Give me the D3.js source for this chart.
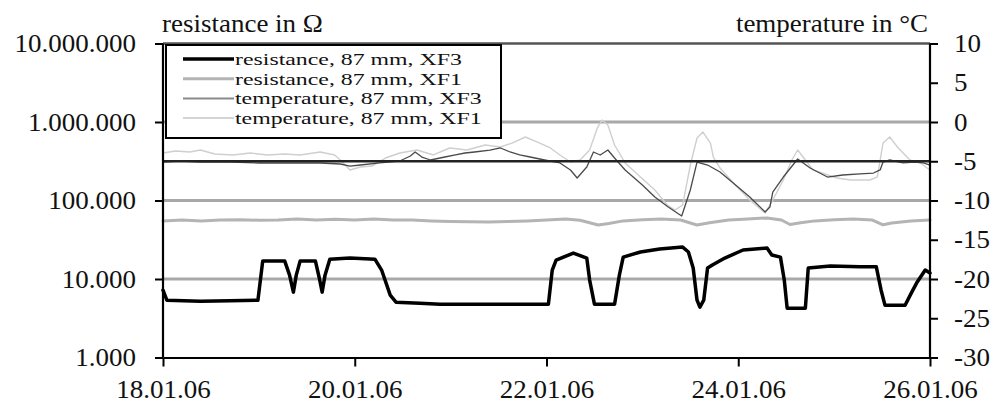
<!DOCTYPE html>
<html>
<head>
<meta charset="utf-8">
<script src="https://cdn.jsdelivr.net/npm/d3@7"></script>
<style>
  html, body { margin: 0; padding: 0; background: #fff; }
</style>
</head>
<body>
<svg id="chart" width="996" height="407"></svg>
<script>
// ---- data (days after 18.01.06 00:00) ----
const resXF3Days = [0, 0.04, 0.39, 0.70, 0.99, 1.04, 1.27, 1.32, 1.36, 1.39, 1.43, 1.59, 1.63, 1.66, 1.69, 1.74, 1.95, 2.21, 2.28, 2.37, 2.43, 2.68, 2.89, 3.51, 4.02, 4.06, 4.10, 4.28, 4.42, 4.45, 4.50, 4.71, 4.76, 4.80, 4.98, 5.18, 5.42, 5.48, 5.53, 5.57, 5.60, 5.64, 5.68, 5.73, 5.86, 6.05, 6.30, 6.35, 6.44, 6.48, 6.51, 6.70, 6.73, 6.96, 7.27, 7.44, 7.49, 7.53, 7.74, 7.81, 7.86, 7.95, 8.00];
const resXF3 = [7200, 5370, 5220, 5300, 5370, 16900, 16900, 11200, 6800, 11200, 16900, 16900, 10300, 6800, 11200, 17900, 18500, 17900, 13000, 6220, 5070, 4920, 4780, 4780, 4780, 13000, 17400, 21400, 18500, 9700, 4780, 4780, 11200, 19000, 22100, 24100, 25500, 22100, 13800, 5370, 4380, 5370, 13800, 15100, 18500, 23400, 24800, 20200, 19000, 9700, 4250, 4250, 13800, 14600, 14300, 14300, 7200, 4640, 4640, 6800, 8870, 13000, 11900];

const resXF1Days = [0, 0.2, 0.4, 0.6, 0.8, 1.0, 1.2, 1.4, 1.6, 1.8, 2.0, 2.2, 2.4, 2.6, 2.8, 3.0, 3.2, 3.4, 3.6, 3.8, 4.0, 4.2, 4.35, 4.45, 4.54, 4.65, 4.8, 5.0, 5.2, 5.4, 5.5, 5.57, 5.7, 5.9, 6.1, 6.3, 6.45, 6.54, 6.65, 6.8, 7.0, 7.2, 7.4, 7.51, 7.6, 7.8, 8.0];
const resXF1 = [55000, 56400, 55000, 56400, 57000, 56000, 56400, 58000, 56400, 57500, 56400, 58000, 56400, 56400, 55000, 54000, 53500, 53200, 54000, 55000, 56400, 58000, 56000, 52000, 48700, 51000, 55000, 57000, 58000, 56400, 51700, 48700, 52000, 56400, 58000, 60000, 56400, 49500, 52000, 55000, 57000, 58000, 56400, 49000, 51700, 54800, 56400];

const tempXF3Days = [0, 0.18, 0.39, 0.70, 1.01, 1.33, 1.64, 1.85, 1.95, 2.06, 2.26, 2.47, 2.58, 2.63, 2.70, 2.79, 2.94, 3.05, 3.15, 3.25, 3.41, 3.52, 3.62, 3.72, 3.83, 3.98, 4.14, 4.25, 4.32, 4.42, 4.49, 4.56, 4.64, 4.71, 4.82, 5.00, 5.13, 5.27, 5.41, 5.50, 5.57, 5.68, 5.81, 5.91, 6.12, 6.28, 6.33, 6.36, 6.47, 6.62, 6.75, 6.93, 7.09, 7.27, 7.41, 7.48, 7.51, 7.58, 7.72, 7.84, 7.93, 8.00];
const tempXF3 = [-5.1, -4.97, -5.1, -5.1, -5.22, -5.22, -5.22, -5.35, -5.61, -5.48, -5.22, -4.97, -4.33, -3.82, -4.46, -4.84, -4.46, -4.2, -3.95, -3.82, -3.57, -3.31, -3.82, -4.2, -4.46, -4.84, -5.22, -6.11, -7.13, -5.73, -3.82, -4.2, -3.57, -4.59, -6.11, -8.03, -9.55, -10.83, -11.97, -8.66, -5.1, -5.48, -6.37, -7.39, -9.55, -11.46, -10.83, -8.92, -7.01, -4.71, -5.86, -7.01, -6.75, -6.62, -6.5, -6.11, -5.1, -4.84, -5.22, -5.1, -5.22, -5.48];

const tempXF1Days = [0, 0.13, 0.28, 0.39, 0.54, 0.73, 0.91, 1.09, 1.27, 1.43, 1.64, 1.79, 1.85, 1.95, 2.06, 2.18, 2.32, 2.47, 2.65, 2.82, 2.99, 3.17, 3.36, 3.52, 3.64, 3.78, 3.93, 4.04, 4.14, 4.25, 4.35, 4.45, 4.53, 4.58, 4.64, 4.71, 4.82, 4.98, 5.13, 5.26, 5.34, 5.42, 5.50, 5.57, 5.63, 5.71, 5.74, 5.81, 5.95, 6.12, 6.28, 6.36, 6.47, 6.56, 6.62, 6.70, 6.78, 7.03, 7.17, 7.37, 7.45, 7.51, 7.58, 7.66, 7.79, 7.90, 7.97, 8.00];
const tempXF1 = [-3.95, -3.69, -3.82, -3.57, -4.08, -4.2, -3.95, -4.2, -4.08, -4.2, -3.82, -4.2, -4.84, -6.11, -5.73, -5.61, -4.59, -3.95, -3.57, -4.2, -3.31, -3.57, -2.93, -3.18, -2.68, -1.91, -2.68, -3.31, -4.2, -5.1, -4.84, -3.57, -0.76, 0.25, -0.38, -2.93, -5.22, -7.01, -8.66, -10.57, -11.21, -10.57, -5.48, -2.04, -1.27, -2.68, -4.46, -5.86, -7.77, -9.94, -11.59, -9.94, -7.39, -4.84, -3.57, -4.84, -6.11, -7.13, -7.39, -7.39, -7.01, -2.68, -1.91, -3.18, -4.84, -5.22, -5.86, -6.11];

const resTicks = [1e3, 1e4, 1e5, 1e6, 1e7];
const tempTicks = [-30, -25, -20, -15, -10, -5, 0, 5, 10];
const dateTickDays = [0, 2, 4, 6, 8];
const legendLabels = ["resistance, 87 mm, XF3", "resistance, 87 mm, XF1", "temperature, 87 mm, XF3", "temperature, 87 mm, XF1"];

// ---- layout ----
const m = { left: 163, right: 930, top: 43.5, bottom: 357.5 };
const FS = 25;
const SERIF = "Liberation Serif";
const start = new Date(2006, 0, 18);
const toDate = d => new Date(start.getTime() + d * 86400000);

const svg = d3.select("#chart");
const x = d3.scaleTime().domain([toDate(0), toDate(8)]).range([m.left, m.right]);
const yL = d3.scaleLog().domain([1e3, 1e7]).range([m.bottom, m.top]);
const yR = d3.scaleLinear().domain([-30, 10]).range([m.bottom, m.top]);

const de = d3.formatLocale({ decimal: ",", thousands: ".", grouping: [3], currency: ["", ""] });
const fmtRes = de.format(",d");

// grid lines
const grid = svg.append("g");
[1e4, 1e5, 1e6].forEach(v => {
  grid.append("line").attr("x1", m.left).attr("x2", m.right)
    .attr("y1", yL(v)).attr("y2", yL(v))
    .attr("stroke", "#a8a8a8").attr("stroke-width", 3);
});
grid.append("line").attr("x1", m.left).attr("x2", m.right)
  .attr("y1", yL(1e7)).attr("y2", yL(1e7))
  .attr("stroke", "#555").attr("stroke-width", 2.5);

// series
const series = [
  { days: resXF1Days, vals: resXF1, y: yL, color: "#b4b4b4", w: 3 },
  { days: tempXF1Days, vals: tempXF1, y: yR, color: "#cfcfcf", w: 1.4 },
  { days: tempXF3Days, vals: tempXF3, y: yR, color: "#4a4a4a", w: 1.3 },
  { days: resXF3Days, vals: resXF3, y: yL, color: "#000", w: 3.5 }
];
series.forEach(s => {
  const pts = s.days.map((d, i) => [x(toDate(d)), s.y(s.vals[i])]);
  svg.append("path").attr("d", d3.line()(pts))
    .attr("fill", "none").attr("stroke", s.color).attr("stroke-width", s.w)
    .attr("stroke-linejoin", "round").attr("stroke-linecap", "round");
});

// -5 °C line
svg.append("line").attr("x1", m.left).attr("x2", m.right)
  .attr("y1", yR(-5)).attr("y2", yR(-5))
  .attr("stroke", "#222").attr("stroke-width", 2.5);

// axes
const axL = svg.append("g").attr("transform", `translate(${m.left},0)`)
  .call(d3.axisLeft(yL).tickValues(resTicks).tickFormat(fmtRes).tickSize(8).tickSizeOuter(0).tickPadding(19));
const axR = svg.append("g").attr("transform", `translate(${m.right},0)`)
  .call(d3.axisRight(yR).tickValues(tempTicks).tickFormat(d => String(d)).tickSize(8).tickSizeOuter(0).tickPadding(16));
const axB = svg.append("g").attr("transform", `translate(0,${m.bottom})`)
  .call(d3.axisBottom(x).tickValues(dateTickDays.map(toDate)).tickFormat(d3.timeFormat("%d.%m.%y")).tickSize(9).tickSizeOuter(0).tickPadding(14));
[axL, axR, axB].forEach(a => {
  a.attr("font-family", SERIF).attr("font-size", FS);
  a.select(".domain").attr("stroke", "#000").attr("stroke-width", 2.2);
  a.selectAll(".tick line").attr("stroke", "#000").attr("stroke-width", 2);
  a.selectAll("text").attr("font-size", FS).attr("font-family", SERIF).attr("fill", "#111");
});
axL.select(".domain").attr("d", `M0,${m.top}V${m.bottom}`);
axR.select(".domain").attr("d", `M0,${m.top}V${m.bottom}`);

// axis titles
svg.append("text").attr("x", 162).attr("y", 32).attr("fill", "#111")
  .attr("font-size", FS).attr("font-family", SERIF).text("resistance in Ω");
svg.append("text").attr("x", 928).attr("y", 32).attr("fill", "#111")
  .attr("text-anchor", "end").attr("font-size", FS).attr("font-family", SERIF).text("temperature in °C");

// legend
const lg = svg.append("g");
lg.append("rect").attr("x", 166).attr("y", 45).attr("width", 335).attr("height", 93)
  .attr("fill", "#fff").attr("stroke", "#000").attr("stroke-width", 2);
const legStyles = [["#000", 3.5], ["#b4b4b4", 3], ["#8a8a8a", 2], ["#d4d4d4", 2]];
legendLabels.forEach((t, i) => {
  const cy = 59 + i * 19.7;
  lg.append("line").attr("x1", 183).attr("x2", 234).attr("y1", cy).attr("y2", cy)
    .attr("stroke", legStyles[i][0]).attr("stroke-width", legStyles[i][1]);
  lg.append("text").attr("class", "leg").attr("x", 235).attr("y", cy + 6).attr("fill", "#111")
    .attr("font-size", 17).attr("font-family", SERIF).text(t);
});

// horizontal stretch of the serif text about its anchor point
const legNodes = lg.selectAll("text.leg").nodes();
const legK = 227 / legNodes[0].getComputedTextLength();
svg.selectAll("text").each(function () {
  const x0 = +(this.getAttribute("x") || 0);
  const k = this.classList.contains("leg") ? legK : 1.08;
  const prev = this.getAttribute("transform") || "";
  this.setAttribute("transform", `${prev} translate(${x0},0) scale(${k},1) translate(${-x0},0)`);
});
</script>
</body>
</html>
